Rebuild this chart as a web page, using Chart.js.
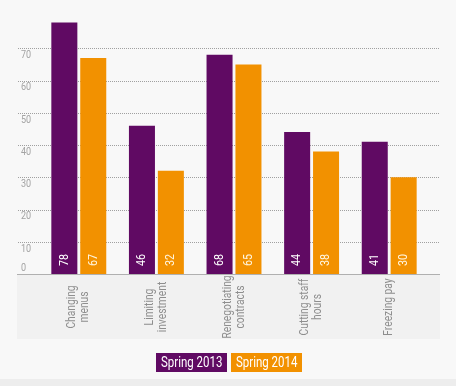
<!DOCTYPE html>
<html>
<head>
<meta charset="utf-8">
<script src="https://cdn.jsdelivr.net/npm/chart.js@4.4.1/dist/chart.umd.min.js"></script>
<style>
  html, body { margin: 0; padding: 0; background: #f8f8f8; }
  #wrap { position: relative; width: 456px; height: 386px; }
  #band { position: absolute; left: 0; top: 379px; width: 456px; height: 7px; background: #ededed; }
</style>
</head>
<body>
<div id="wrap">
  <canvas id="chart" width="456" height="386"></canvas>
  <div id="band"></div>
</div>
<script>
// dados do gráfico
const categories = [['Changing', 'menus'], ['Limiting', 'investment'], ['Renegotiating', 'contracts'], ['Cutting staff', 'hours'], ['Freezing pay']];
const spring2013 = [78, 46, 68, 44, 41];
const spring2014 = [67, 32, 65, 38, 30];
const yTicks = [0, 10, 20, 30, 40, 50, 60, 70];

const purple = '#600a63';
const orange = '#f29100';
const fontName = "Roboto, 'DejaVu Sans', sans-serif";
const squeeze = 0.82; // fonte condensada

// texto estreitado na horizontal
function narrowText(ctx, text, x, y, align) {
    ctx.save();
    ctx.translate(x, y);
    ctx.scale(squeeze, 1);
    ctx.textAlign = align;
    ctx.fillText(text, 0, 0);
    ctx.restore();
}

// desenha grade, rótulos e legenda à mão
const decor = {
    id: 'decor',
    beforeDatasetsDraw(chart) {
        const ctx = chart.ctx;
        const y = chart.scales.y;
        const base = y.getPixelForValue(0);
        ctx.save();
        // painel dos rótulos do eixo x
        ctx.fillStyle = '#f1f1f1';
        ctx.fillRect(17, base, 423, 65);
        // linhas pontilhadas
        ctx.strokeStyle = '#a0a0a0';
        ctx.lineWidth = 1;
        ctx.setLineDash([1, 1]);
        yTicks.forEach(v => {
            if (v === 0) return;
            const py = Math.round(y.getPixelForValue(v)) + 0.5;
            ctx.beginPath();
            ctx.moveTo(18, py);
            ctx.lineTo(439, py);
            ctx.stroke();
        });
        ctx.setLineDash([]);
        ctx.strokeStyle = '#b0b0b0';
        ctx.beginPath();
        ctx.moveTo(17, Math.round(base) + 0.5);
        ctx.lineTo(440, Math.round(base) + 0.5);
        ctx.stroke();
        // rótulos do eixo y
        ctx.fillStyle = '#a3a3a3';
        ctx.font = '11px ' + fontName;
        ctx.textBaseline = 'middle';
        yTicks.forEach(v => {
            const py = y.getPixelForValue(v);
            narrowText(ctx, String(v), 21, v === 0 ? py - 6 : py + 7, 'left');
        });
        ctx.restore();
    },
    afterDatasetsDraw(chart) {
        const ctx = chart.ctx;
        const x = chart.scales.x;
        const y = chart.scales.y;
        const base = y.getPixelForValue(0);
        ctx.save();
        // valores dentro das barras
        ctx.font = '13px ' + fontName;
        ctx.textBaseline = 'middle';
        chart.data.datasets.forEach((ds, i) => {
            const meta = chart.getDatasetMeta(i);
            meta.data.forEach((bar, j) => {
                ctx.save();
                ctx.translate(bar.x, base - 8);
                ctx.rotate(-Math.PI / 2);
                ctx.fillStyle = i === 0 ? '#ffffff' : '#fff6e0';
                narrowText(ctx, String(ds.data[j]), 0, 0, 'left');
                ctx.restore();
            });
        });
        // rótulos do eixo x, girados
        ctx.font = '12.5px ' + fontName;
        ctx.fillStyle = '#8e8e8e';
        categories.forEach((lines, j) => {
            const px = x.getPixelForValue(j);
            const lh = 13;
            ctx.save();
            ctx.translate(px, base + 33);
            ctx.rotate(-Math.PI / 2);
            lines.forEach((t, k) => {
                narrowText(ctx, t, 0, (k - (lines.length - 1) / 2) * lh, 'center');
            });
            ctx.restore();
        });
        // legenda com fundo colorido
        ctx.font = '14px ' + fontName;
        ctx.textBaseline = 'middle';
        const items = chart.data.datasets.map(ds => ({ text: ds.label, color: ds.backgroundColor }));
        const padX = 5, gap = 4, h = 19;
        const widths = items.map(it => Math.round(ctx.measureText(it.text).width * squeeze) + padX * 2);
        const total = widths.reduce((a, b) => a + b, 0) + gap * (items.length - 1);
        let lx = Math.round(229 - total / 2);
        items.forEach((it, k) => {
            ctx.fillStyle = it.color;
            ctx.fillRect(lx, 353, widths[k], h);
            ctx.fillStyle = '#ffffff';
            narrowText(ctx, it.text, lx + padX, 353 + h / 2 + 1, 'left');
            lx += widths[k] + gap;
        });
        ctx.restore();
    }
};

const ctx = document.getElementById('chart').getContext('2d');
new Chart(ctx, {
    type: 'bar',
    data: {
        labels: categories,
        datasets: [
            { label: 'Spring 2013', data: spring2013, backgroundColor: purple },
            { label: 'Spring 2014', data: spring2014, backgroundColor: orange }
        ]
    },
    options: {
        responsive: false,
        animation: false,
        layout: { padding: { left: 40, right: 28, top: 16, bottom: 112 } },
        datasets: { bar: { barPercentage: 0.9, categoryPercentage: 0.745 } },
        scales: {
            x: { display: false },
            y: { display: false, min: 0, max: 80 }
        },
        plugins: {
            legend: { display: false },
            tooltip: { enabled: false }
        }
    },
    plugins: [decor]
});
</script>
</body>
</html>
